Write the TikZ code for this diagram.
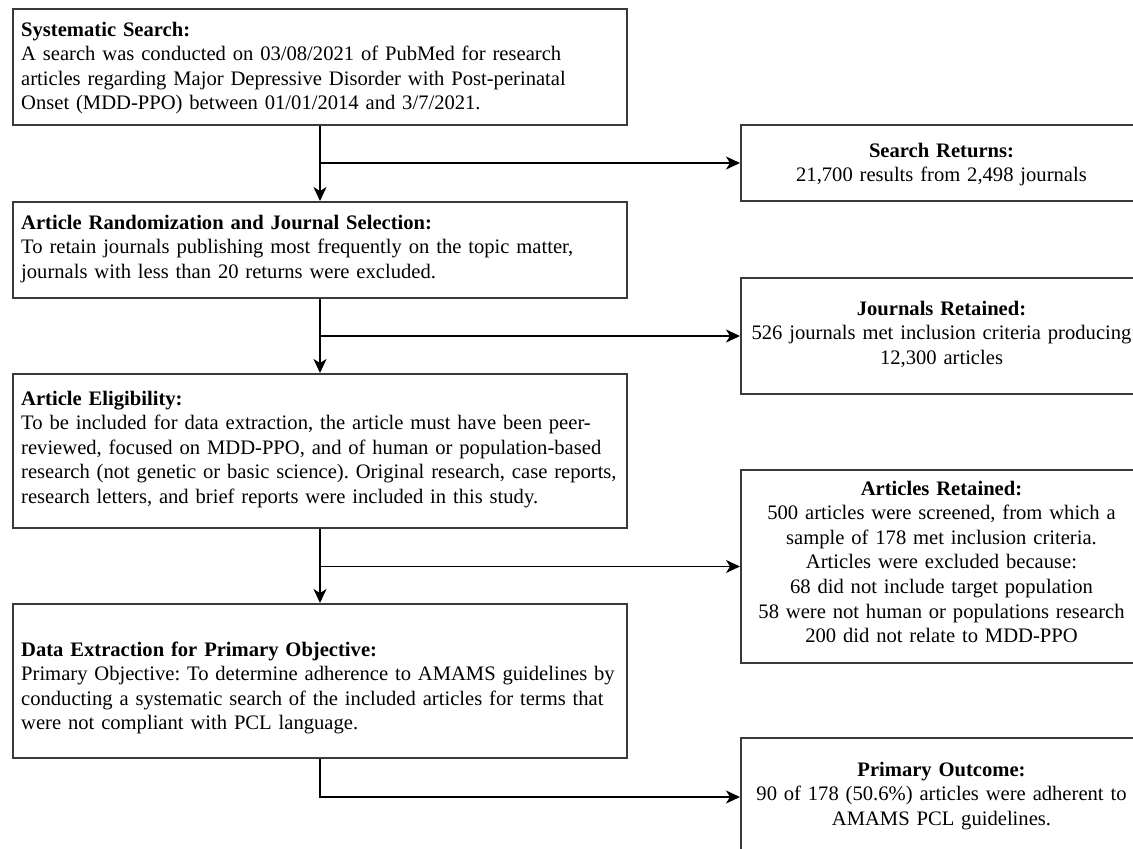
\documentclass[tikz,border=0pt]{standalone}
\usepackage{fontspec}
\setmainfont{Liberation Serif}
\usetikzlibrary{arrows.meta}
\definecolor{boxgray}{HTML}{3A3A3A}
\frenchspacing
\begin{document}
\begin{tikzpicture}[x=1pt,y=-1pt,
  box/.style={draw=boxgray, line width=2pt, inner sep=0pt, anchor=north west, fill=white},
  lefttxt/.style={anchor=base west, align=left, inner sep=0pt, text width=700pt,
    font=\fontsize{20.6}{24.6}\selectfont\frenchspacing},
  righttxt/.style={anchor=base, align=center, inner sep=0pt, text width=395pt,
    font=\fontsize{20.6}{24.6}\selectfont\frenchspacing},
  conn/.style={draw=black, line width=1.6pt},
  arr/.style={conn, -{Stealth[length=14pt, width=13pt, inset=4pt]}}]
\path[use as bounding box] (0,0) rectangle (1133,849);
\clip (0,0) rectangle (1133,849);
\fill[white] (0,0) rectangle (1133,849);

% left column boxes
\node[box, minimum width=614pt, minimum height=116pt] (b1) at (12,8) {};
\node[box, minimum width=614pt, minimum height=96pt]  (b2) at (12,201) {};
\node[box, minimum width=614pt, minimum height=154pt] (b3) at (12,373) {};
\node[box, minimum width=614pt, minimum height=154pt] (b4) at (12,603) {};
% right column boxes
\node[box, minimum width=401pt, minimum height=76pt]  (b5) at (740,124) {};
\node[box, minimum width=401pt, minimum height=116pt] (b6) at (740,277) {};
\node[box, minimum width=401pt, minimum height=193pt] (b7) at (740,469) {};
\node[box, minimum width=401pt, minimum height=118pt] (b8) at (740,737) {};

% texts
\node[lefttxt] (t1) at ([shift={(9,28)}]b1.north west) {\textbf{Systematic Search:}\\
A search was conducted on 03/08/2021 of PubMed for research\\
articles regarding Major Depressive Disorder with Post-perinatal\\
Onset (MDD-PPO) between 01/01/2014 and 3/7/2021.};
\node[lefttxt] (t2) at ([shift={(9,28)}]b2.north west) {\textbf{Article Randomization and Journal Selection:}\\
To retain journals publishing most frequently on the topic matter,\\
journals with less than 20 returns were excluded.};
\node[lefttxt] (t3) at ([shift={(9,32)}]b3.north west) {\textbf{Article Eligibility:}\\
To be included for data extraction, the article must have been peer-\\
reviewed, focused on MDD-PPO, and of human or population-based\\
research (not genetic or basic science). Original research, case reports,\\
research letters, and brief reports were included in this study.};
\node[lefttxt] (t4) at ([shift={(9,53)}]b4.north west) {\textbf{Data Extraction for Primary Objective:}\\
Primary Objective: To determine adherence to AMAMS guidelines by\\
conducting a systematic search of the included articles for terms that\\
were not compliant with PCL language.};

\node[righttxt] (t5) at ([shift={(0,33)}]b5.north) {\textbf{Search Returns:}\\
21,700 results from 2,498 journals};
\node[righttxt] (t6) at ([shift={(0,38)}]b6.north) {\textbf{Journals Retained:}\\
526 journals met inclusion criteria producing\\
12,300 articles};
\node[righttxt] (t7) at ([shift={(0,26)}]b7.north) {\textbf{Articles Retained:}\\
500 articles were screened, from which a\\
sample of 178 met inclusion criteria.\\
Articles were excluded because:\\
68 did not include target population\\
58 were not human or populations research\\
200 did not relate to MDD-PPO};
\node[righttxt] (t8) at ([shift={(0,39)}]b8.north) {\textbf{Primary Outcome:}\\
90 of 178 (50.6\%) articles were adherent to\\
AMAMS PCL guidelines.};

% connectors
\draw[arr] (b1.south) -- (b2.north);
\draw[arr] (b1.south |- b5.west) -- (b5.west);
\draw[arr] (b2.south) -- (b3.north);
\draw[arr] (b2.south |- b6.west) -- (b6.west);
\draw[arr] (b3.south) -- (b4.north);
\draw[arr] (b3.south |- b7.west) -- (b7.west);
\draw[arr] (b4.south) |- (b8.west);
\end{tikzpicture}
\end{document}
